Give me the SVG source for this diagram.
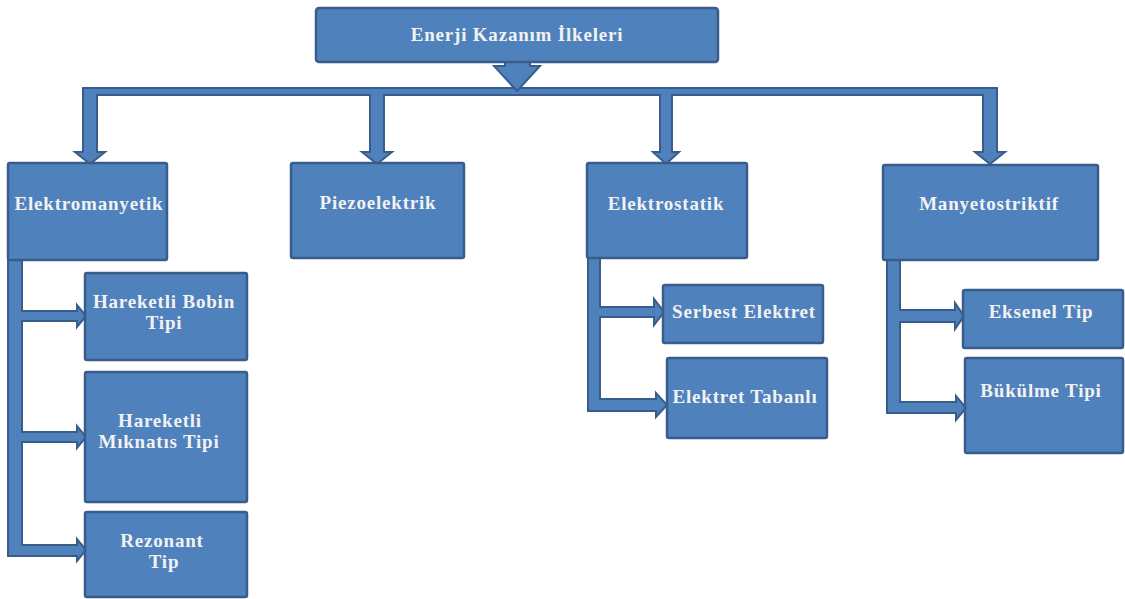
<svg xmlns="http://www.w3.org/2000/svg" width="1125" height="599" viewBox="0 0 1125 599">
<style>
.box{fill:#4F81BD;stroke:#385D8A;stroke-width:2.5}
.conn{fill:#4F81BD;stroke:#385D8A;stroke-width:2;stroke-linejoin:miter}
text{font-family:"Liberation Serif","Times New Roman",serif;font-weight:bold;font-size:19px;letter-spacing:0.8px;fill:#F2F2F2;text-anchor:middle}
</style>
<rect width="1125" height="599" fill="#FFFFFF"/>
<g id="connectors">
<path class="conn" d="M83,88 H997 V152 H1005 L990,164 L975,152 H983 V95 H672 V152 H679 L666,164 L653,152 H660 V95 H384 V152 H392 L377,164 L362,152 H370 V95 H97 V152 H105 L90,164 L75,152 H83 Z"/>
<path class="conn" d="M505,61 H530 V66 H540 L517,91 L494,66 H505 Z"/>
<path class="conn" d="M8,259 H22 V311 H77 V305 L86,316 L77,327 V321 H22 V432 H77 V426 L86,437 L77,448 V442 H22 V545 H77 V539 L86,550 L77,561 V556 H8 Z"/>
<path class="conn" d="M588,258 H600 V307 H654 V299 L664,312 L654,325 V317 H600 V399 H656 V393 L667,405 L656,417 V411 H588 Z"/>
<path class="conn" d="M887,260 H900 V310 H955 V303 L964,316 L955,329 V322 H900 V402 H956 V396 L966,408 L956,420 V413 H887 Z"/>
</g>
<g id="n-root"><rect class="box" x="316" y="8" width="402" height="54" rx="3"/><text x="517" y="41">Enerji Kazanım İlkeleri</text></g>
<g id="n-em"><rect class="box" x="8" y="163" width="159" height="97" rx="2"/><text x="89" y="210">Elektromanyetik</text></g>
<g id="n-piezo"><rect class="box" x="291" y="163" width="173" height="95" rx="2"/><text x="378" y="209">Piezoelektrik</text></g>
<g id="n-es"><rect class="box" x="587" y="163" width="160" height="95" rx="2"/><text x="666" y="210">Elektrostatik</text></g>
<g id="n-ms"><rect class="box" x="883" y="165" width="215" height="95" rx="2"/><text x="989" y="210">Manyetostriktif</text></g>
<g id="n-hbt"><rect class="box" x="85" y="273" width="162" height="87" rx="2"/><text x="164" y="308">Hareketli Bobin</text><text x="164" y="329">Tipi</text></g>
<g id="n-hmt"><rect class="box" x="85" y="372" width="162" height="130" rx="2"/><text x="160" y="427">Hareketli</text><text x="159" y="448">Mıknatıs Tipi</text></g>
<g id="n-rt"><rect class="box" x="85" y="512" width="162" height="85" rx="2"/><text x="162" y="547">Rezonant</text><text x="164" y="568">Tip</text></g>
<g id="n-se"><rect class="box" x="663" y="285" width="160" height="58" rx="2"/><text x="744" y="318">Serbest Elektret</text></g>
<g id="n-et"><rect class="box" x="667" y="358" width="160" height="80" rx="2"/><text x="745" y="403">Elektret Tabanlı</text></g>
<g id="n-ek"><rect class="box" x="963" y="290" width="160" height="58" rx="2"/><text x="1041" y="318">Eksenel Tip</text></g>
<g id="n-bt"><rect class="box" x="965" y="358" width="158" height="95" rx="2"/><text x="1041" y="397">Bükülme Tipi</text></g>
</svg>
